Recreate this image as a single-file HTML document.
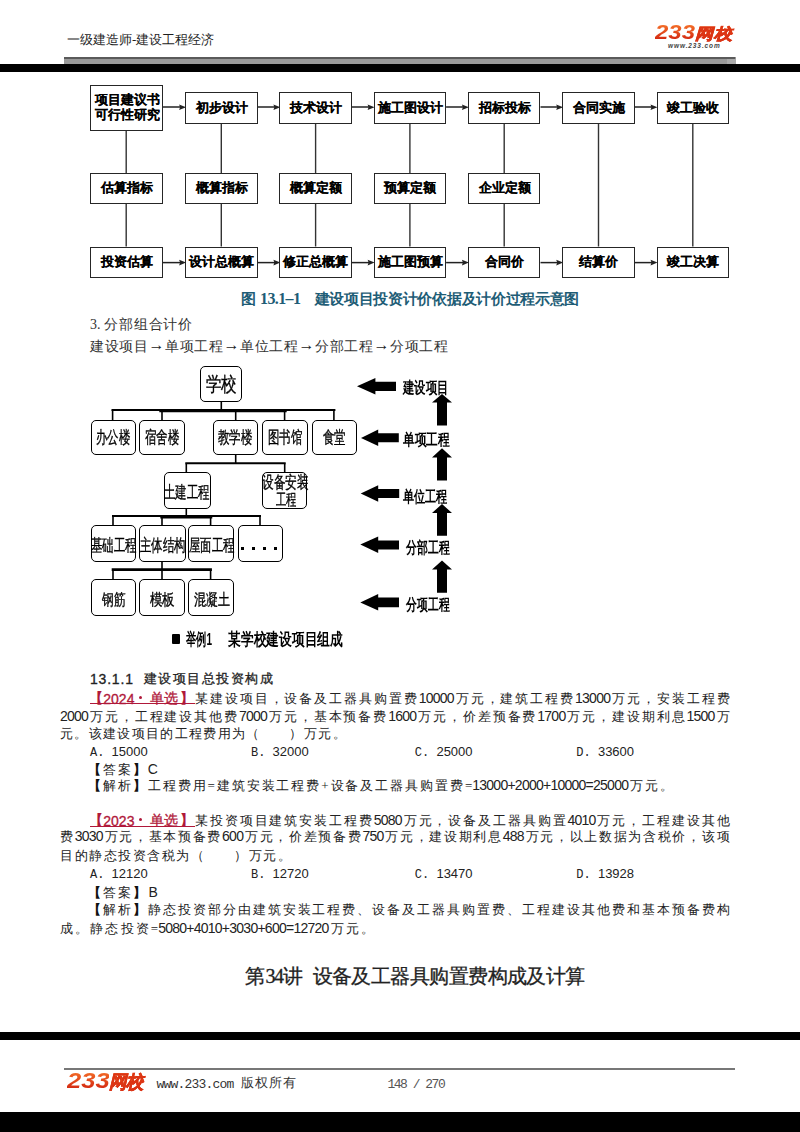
<!DOCTYPE html>
<html><head><meta charset="utf-8">
<style>
*{margin:0;padding:0;box-sizing:border-box}
html,body{width:800px;height:1132px;background:#fff;overflow:hidden;position:relative;font-family:"Liberation Serif",serif;color:#333}
.a{position:absolute}
.l{position:absolute;white-space:nowrap;text-align:justify;text-align-last:justify}
.n{position:absolute;white-space:nowrap}
.fb{position:absolute;border:1.8px solid #262626;background:#fff}
.tb{position:absolute;border:1.9px solid #000;border-radius:5px;background:#fff}
.dg{font-family:'Liberation Sans',sans-serif;font-size:14px;letter-spacing:-0.75px}
.bk{font-weight:bold;color:#111}
.ar{font-family:'Liberation Sans',sans-serif;font-weight:bold;font-size:16px;position:relative;top:-1.5px;color:#222}
.ct{position:absolute;white-space:nowrap;font-family:'Liberation Sans',sans-serif;transform-origin:0 0;-webkit-text-stroke:0.35px #000}
.ft{position:absolute;white-space:nowrap;text-align:justify;text-align-last:justify;font-family:"Liberation Sans",sans-serif;font-weight:bold;color:#000;-webkit-text-stroke:0.1px #000}
</style></head><body>

<div class="l" style="left:67px;top:31px;width:147px;font-size:13px;line-height:18px;color:#1e1e1e;">一级建造师-建设工程经济</div>
<div class="n" style="left:655px;top:22.6px;font-family:'Liberation Sans',sans-serif;font-weight:bold;font-style:italic;font-size:19.55px;line-height:19.55px;color:#e23c18;background:linear-gradient(#f26a26 15%,#d42a12 85%);-webkit-background-clip:text;background-clip:text;-webkit-text-fill-color:transparent;transform-origin:0 0;transform:scaleX(1.226)">233</div>
<div class="n" style="left:695.0px;top:26.2px;font-family:'Liberation Sans',sans-serif;font-weight:bold;font-style:italic;font-size:15.56px;line-height:15.56px;color:#e23c18;-webkit-text-stroke:0.5px #dc3414;background:linear-gradient(#f26a26 15%,#d42a12 85%);-webkit-background-clip:text;background-clip:text;-webkit-text-fill-color:transparent;transform-origin:0 0;transform:scaleX(1.160)">网校</div>
<div class="n" style="left:668px;top:42px;font-family:'Liberation Sans',sans-serif;font-weight:bold;font-style:italic;font-size:6.5px;line-height:7px;color:#444;letter-spacing:0.9px">www.233.com</div>
<div class="a" style="left:64px;top:57px;width:672px;height:7px;background:#999"></div>
<div class="a" style="left:64px;top:57px;width:671px;height:2px;background:#5a5a5a"></div>
<div class="a" style="left:727px;top:59px;width:9px;height:5px;background:#aaa"></div>
<div class="a" style="left:0;top:64px;width:800px;height:8px;background:#000"></div>
<svg class="a" style="left:0;top:0" width="800" height="320" viewBox="0 0 800 320">
<line x1="126.2" y1="130.5" x2="126.2" y2="246.5" stroke="#333" stroke-width="1.4"/>
<line x1="221.3" y1="123.5" x2="221.3" y2="246.5" stroke="#333" stroke-width="1.4"/>
<line x1="315.6" y1="123.5" x2="315.6" y2="246.5" stroke="#333" stroke-width="1.4"/>
<line x1="409.9" y1="123.5" x2="409.9" y2="246.5" stroke="#333" stroke-width="1.4"/>
<line x1="504.2" y1="123.5" x2="504.2" y2="246.5" stroke="#333" stroke-width="1.4"/>
<line x1="598.5" y1="123.5" x2="598.5" y2="246.5" stroke="#333" stroke-width="1.4"/>
<line x1="692.8" y1="123.5" x2="692.8" y2="246.5" stroke="#333" stroke-width="1.4"/>
<line x1="162.5" y1="107" x2="181.1" y2="107" stroke="#222" stroke-width="1.5"/><path d="M186.1,107.2 L179.1,104.4 L180.1,107.2 L179.1,110.0 Z" fill="#222"/>
<line x1="162.5" y1="262.6" x2="181.1" y2="262.6" stroke="#222" stroke-width="1.5"/><path d="M186.1,262.6 L179.1,259.8 L180.1,262.6 L179.1,265.40000000000003 Z" fill="#222"/>
<line x1="257.6" y1="107" x2="275.4" y2="107" stroke="#222" stroke-width="1.5"/><path d="M280.4,107.2 L273.4,104.4 L274.4,107.2 L273.4,110.0 Z" fill="#222"/>
<line x1="257.6" y1="262.6" x2="275.4" y2="262.6" stroke="#222" stroke-width="1.5"/><path d="M280.4,262.6 L273.4,259.8 L274.4,262.6 L273.4,265.40000000000003 Z" fill="#222"/>
<line x1="351.9" y1="107" x2="369.6" y2="107" stroke="#222" stroke-width="1.5"/><path d="M374.6,107.2 L367.6,104.4 L368.6,107.2 L367.6,110.0 Z" fill="#222"/>
<line x1="351.9" y1="262.6" x2="369.6" y2="262.6" stroke="#222" stroke-width="1.5"/><path d="M374.6,262.6 L367.6,259.8 L368.6,262.6 L367.6,265.40000000000003 Z" fill="#222"/>
<line x1="446.1" y1="107" x2="463.9" y2="107" stroke="#222" stroke-width="1.5"/><path d="M468.9,107.2 L461.9,104.4 L462.9,107.2 L461.9,110.0 Z" fill="#222"/>
<line x1="446.1" y1="262.6" x2="463.9" y2="262.6" stroke="#222" stroke-width="1.5"/><path d="M468.9,262.6 L461.9,259.8 L462.9,262.6 L461.9,265.40000000000003 Z" fill="#222"/>
<line x1="540.5" y1="107" x2="558.2" y2="107" stroke="#222" stroke-width="1.5"/><path d="M563.2,107.2 L556.2,104.4 L557.2,107.2 L556.2,110.0 Z" fill="#222"/>
<line x1="540.5" y1="262.6" x2="558.2" y2="262.6" stroke="#222" stroke-width="1.5"/><path d="M563.2,262.6 L556.2,259.8 L557.2,262.6 L556.2,265.40000000000003 Z" fill="#222"/>
<line x1="634.8" y1="107" x2="652.5" y2="107" stroke="#222" stroke-width="1.5"/><path d="M657.5,107.2 L650.5,104.4 L651.5,107.2 L650.5,110.0 Z" fill="#222"/>
<line x1="634.8" y1="262.6" x2="652.5" y2="262.6" stroke="#222" stroke-width="1.5"/><path d="M657.5,262.6 L650.5,259.8 L651.5,262.6 L650.5,265.40000000000003 Z" fill="#222"/>
</svg>
<div class="fb" style="left:90.0px;top:84.5px;width:72.5px;height:46.0px"></div>
<div class="ft" style="left:94.6px;top:91.0px;width:63.4px;font-size:12.8px;line-height:18px">项目建议书</div>
<div class="ft" style="left:94.6px;top:106.0px;width:63.4px;font-size:12.8px;line-height:18px">可行性研究</div>
<div class="fb" style="left:90.0px;top:172.5px;width:72.5px;height:31.5px"></div>
<div class="ft" style="left:100.5px;top:179.2px;width:51.5px;font-size:13px;line-height:18px">估算指标</div>
<div class="fb" style="left:90.0px;top:246.5px;width:72.5px;height:31.5px"></div>
<div class="ft" style="left:100.5px;top:253.2px;width:51.5px;font-size:13px;line-height:18px">投资估算</div>
<div class="fb" style="left:185.1px;top:91.5px;width:72.5px;height:32.0px"></div>
<div class="ft" style="left:195.6px;top:98.5px;width:51.5px;font-size:13px;line-height:18px">初步设计</div>
<div class="fb" style="left:185.1px;top:172.5px;width:72.5px;height:31.5px"></div>
<div class="ft" style="left:195.6px;top:179.2px;width:51.5px;font-size:13px;line-height:18px">概算指标</div>
<div class="fb" style="left:185.1px;top:246.5px;width:72.5px;height:31.5px"></div>
<div class="ft" style="left:189.1px;top:253.2px;width:64.3px;font-size:13px;line-height:18px">设计总概算</div>
<div class="fb" style="left:279.4px;top:91.5px;width:72.5px;height:32.0px"></div>
<div class="ft" style="left:289.9px;top:98.5px;width:51.5px;font-size:13px;line-height:18px">技术设计</div>
<div class="fb" style="left:279.4px;top:172.5px;width:72.5px;height:31.5px"></div>
<div class="ft" style="left:289.9px;top:179.2px;width:51.5px;font-size:13px;line-height:18px">概算定额</div>
<div class="fb" style="left:279.4px;top:246.5px;width:72.5px;height:31.5px"></div>
<div class="ft" style="left:283.4px;top:253.2px;width:64.3px;font-size:13px;line-height:18px">修正总概算</div>
<div class="fb" style="left:373.6px;top:91.5px;width:72.5px;height:32.0px"></div>
<div class="ft" style="left:377.7px;top:98.5px;width:64.3px;font-size:13px;line-height:18px">施工图设计</div>
<div class="fb" style="left:373.6px;top:172.5px;width:72.5px;height:31.5px"></div>
<div class="ft" style="left:384.2px;top:179.2px;width:51.5px;font-size:13px;line-height:18px">预算定额</div>
<div class="fb" style="left:373.6px;top:246.5px;width:72.5px;height:31.5px"></div>
<div class="ft" style="left:377.7px;top:253.2px;width:64.3px;font-size:13px;line-height:18px">施工图预算</div>
<div class="fb" style="left:467.9px;top:91.5px;width:72.5px;height:32.0px"></div>
<div class="ft" style="left:478.5px;top:98.5px;width:51.5px;font-size:13px;line-height:18px">招标投标</div>
<div class="fb" style="left:467.9px;top:172.5px;width:72.5px;height:31.5px"></div>
<div class="ft" style="left:478.5px;top:179.2px;width:51.5px;font-size:13px;line-height:18px">企业定额</div>
<div class="fb" style="left:467.9px;top:246.5px;width:72.5px;height:31.5px"></div>
<div class="ft" style="left:484.9px;top:253.2px;width:38.6px;font-size:13px;line-height:18px">合同价</div>
<div class="fb" style="left:562.2px;top:91.5px;width:72.5px;height:32.0px"></div>
<div class="ft" style="left:572.8px;top:98.5px;width:51.5px;font-size:13px;line-height:18px">合同实施</div>
<div class="fb" style="left:562.2px;top:246.5px;width:72.5px;height:31.5px"></div>
<div class="ft" style="left:579.2px;top:253.2px;width:38.6px;font-size:13px;line-height:18px">结算价</div>
<div class="fb" style="left:656.5px;top:91.5px;width:72.5px;height:32.0px"></div>
<div class="ft" style="left:667.1px;top:98.5px;width:51.5px;font-size:13px;line-height:18px">竣工验收</div>
<div class="fb" style="left:656.5px;top:246.5px;width:72.5px;height:31.5px"></div>
<div class="ft" style="left:667.1px;top:253.2px;width:51.5px;font-size:13px;line-height:18px">竣工决算</div>
<div class="n" style="left:241px;top:290px;font-family:'Liberation Sans',sans-serif;font-weight:bold;font-size:15px;line-height:18px;color:#1e5d76">图</div>
<div class="n" style="left:260px;top:289.5px;font-family:'Liberation Serif',serif;font-weight:bold;font-size:16px;line-height:18px;letter-spacing:-0.6px;color:#1e5d76">13.1–1</div>
<div class="n" style="left:314.5px;top:290px;font-family:'Liberation Sans',sans-serif;font-weight:bold;font-size:15px;line-height:18px;letter-spacing:-0.3px;color:#1e5d76">建设项目投资计价依据及计价过程示意图</div>
<div class="l" style="left:90px;top:316px;width:102px;font-size:14px;line-height:18px;color:#333;"><span style="margin-right:3px">3.</span>分部组合计价</div>
<div class="l" style="left:90px;top:337.3px;width:358px;font-size:14px;line-height:18px;color:#333;">建设项目<span class="ar">→</span>单项工程<span class="ar">→</span>单位工程<span class="ar">→</span>分部工程<span class="ar">→</span>分项工程</div>
<svg class="a" style="left:0;top:350px" width="800" height="300" viewBox="0 350 800 300">
<line x1="112.6" y1="410" x2="334.3" y2="410" stroke="#000" stroke-width="2.2" stroke-linecap="square"/>
<line x1="161" y1="410.6" x2="285" y2="410.6" stroke="#000" stroke-width="3.4" stroke-linecap="square"/>
<line x1="221.3" y1="402" x2="221.3" y2="410" stroke="#000" stroke-width="1.6"/>
<line x1="112.6" y1="410" x2="112.6" y2="421" stroke="#000" stroke-width="1.6"/>
<line x1="162" y1="410" x2="162" y2="421" stroke="#000" stroke-width="1.6"/>
<line x1="235.7" y1="410" x2="235.7" y2="421" stroke="#000" stroke-width="1.6"/>
<line x1="284.6" y1="410" x2="284.6" y2="421" stroke="#000" stroke-width="1.6"/>
<line x1="333.9" y1="410" x2="333.9" y2="421" stroke="#000" stroke-width="1.6"/>
<line x1="235.7" y1="455" x2="235.7" y2="463.5" stroke="#000" stroke-width="1.6"/>
<line x1="186.3" y1="463.2" x2="284.7" y2="463.2" stroke="#000" stroke-width="2.0" stroke-linecap="square"/>
<line x1="186.3" y1="463.5" x2="186.3" y2="472" stroke="#000" stroke-width="1.6"/>
<line x1="284.7" y1="463.5" x2="284.7" y2="472" stroke="#000" stroke-width="1.6"/>
<line x1="186.3" y1="508.7" x2="186.3" y2="516.5" stroke="#000" stroke-width="1.6"/>
<line x1="113" y1="516" x2="260" y2="516" stroke="#000" stroke-width="2.0" stroke-linecap="square"/>
<line x1="162" y1="516.7" x2="210.6" y2="516.7" stroke="#000" stroke-width="3.4" stroke-linecap="square"/>
<line x1="113" y1="516.5" x2="113" y2="526" stroke="#000" stroke-width="1.6"/>
<line x1="162" y1="516.5" x2="162" y2="526" stroke="#000" stroke-width="1.6"/>
<line x1="210.6" y1="516.5" x2="210.6" y2="526" stroke="#000" stroke-width="1.6"/>
<line x1="260" y1="516.5" x2="260" y2="526" stroke="#000" stroke-width="1.6"/>
<line x1="162" y1="562" x2="162" y2="569.6" stroke="#000" stroke-width="1.6"/>
<line x1="113" y1="569.6" x2="210.6" y2="569.6" stroke="#000" stroke-width="2.6" stroke-linecap="square"/>
<line x1="113" y1="569.6" x2="113" y2="579" stroke="#000" stroke-width="1.6"/>
<line x1="162" y1="569.6" x2="162" y2="579" stroke="#000" stroke-width="1.6"/>
<line x1="210.6" y1="569.6" x2="210.6" y2="579" stroke="#000" stroke-width="1.6"/>
<path d="M357,386.3 L375.4,378 L375.4,381.8 L396,381.8 L396,391.1 L375.4,391.1 L375.4,394.6 Z" fill="#000"/>
<path d="M361,437.9 L378.2,429.6 L378.2,433.3 L398.8,433.3 L398.8,442.3 L378.2,442.3 L378.2,446.1 Z" fill="#000"/>
<path d="M360.7,493.5 L378.2,485.2 L378.2,488.9 L399.2,488.9 L399.2,498.1 L378.2,498.1 L378.2,501.7 Z" fill="#000"/>
<path d="M360.3,544.6 L378.2,536.4 L378.2,540.5 L399,540.5 L399,549.4 L378.2,549.4 L378.2,552.9 Z" fill="#000"/>
<path d="M360.3,602.4 L378.2,594.1 L378.2,597.6 L399,597.6 L399,607.2 L378.2,607.2 L378.2,610.6 Z" fill="#000"/>
<path d="M442,393.9 L452,402.4 L447,402.4 L447,425.5 L437,425.5 L437,402.4 L432,402.4 Z" fill="#000"/>
<path d="M442,448.2 L452,457.4 L447,457.4 L447,480.5 L437,480.5 L437,457.4 L432,457.4 Z" fill="#000"/>
<path d="M442,504 L452,513 L447,513 L447,535.7 L437,535.7 L437,513 L432,513 Z" fill="#000"/>
<path d="M442,560.4 L452,569.6 L447,569.6 L447,592.7 L437,592.7 L437,569.6 L432,569.6 Z" fill="#000"/>
</svg>
<div class="tb" style="left:200.4px;top:366.3px;width:42.1px;height:36.0px"></div>
<div class="ct" style="left:206.49px;top:375.39px;font-size:19.77px;line-height:19.77px;font-weight:normal;color:#000;transform:scaleX(0.772)">学校</div>
<div class="tb" style="left:90.8px;top:420.2px;width:45.0px;height:34.8px"></div>
<div class="ct" style="left:95.83px;top:428.82px;font-size:17.27px;line-height:17.27px;font-weight:normal;color:#000;transform:scaleX(0.674)">办公楼</div>
<div class="tb" style="left:139px;top:420.2px;width:46.3px;height:34.8px"></div>
<div class="ct" style="left:144.68px;top:428.82px;font-size:17.27px;line-height:17.27px;font-weight:normal;color:#000;transform:scaleX(0.674)">宿舍楼</div>
<div class="tb" style="left:212.7px;top:420.2px;width:45.7px;height:34.8px"></div>
<div class="ct" style="left:218.08px;top:428.82px;font-size:17.27px;line-height:17.27px;font-weight:normal;color:#000;transform:scaleX(0.674)">教学楼</div>
<div class="tb" style="left:262px;top:420.2px;width:46.4px;height:34.8px"></div>
<div class="ct" style="left:267.73px;top:428.82px;font-size:17.27px;line-height:17.27px;font-weight:normal;color:#000;transform:scaleX(0.674)">图书馆</div>
<div class="tb" style="left:311.6px;top:420.2px;width:45.6px;height:34.8px"></div>
<div class="ct" style="left:322.79px;top:428.82px;font-size:17.27px;line-height:17.27px;font-weight:normal;color:#000;transform:scaleX(0.672)">食堂</div>
<div class="tb" style="left:163.8px;top:471.5px;width:47.1px;height:37.4px"></div>
<div class="ct" style="left:164.14px;top:484.71px;font-size:16.93px;line-height:16.93px;font-weight:normal;color:#000;transform:scaleX(0.673)">土建工程</div>
<div class="tb" style="left:262.2px;top:471.5px;width:45.3px;height:37.4px"></div>
<div class="ct" style="left:262.34px;top:474.90px;font-size:16.59px;line-height:16.59px;font-weight:normal;color:#000;transform:scaleX(0.687)">设备安装</div>
<div class="ct" style="left:275.59px;top:492.48px;font-size:15.91px;line-height:15.91px;font-weight:normal;color:#000;transform:scaleX(0.642)">工程</div>
<div class="tb" style="left:90.7px;top:525.1px;width:45.5px;height:37.4px"></div>
<div class="ct" style="left:91.00px;top:537.80px;font-size:16.70px;line-height:16.70px;font-weight:normal;color:#000;transform:scaleX(0.672)">基础工程</div>
<div class="tb" style="left:139px;top:525.1px;width:46.9px;height:37.4px"></div>
<div class="ct" style="left:140.00px;top:537.80px;font-size:16.70px;line-height:16.70px;font-weight:normal;color:#000;transform:scaleX(0.672)">主体结构</div>
<div class="tb" style="left:188px;top:525.1px;width:46.0px;height:37.4px"></div>
<div class="ct" style="left:188.55px;top:537.80px;font-size:16.70px;line-height:16.70px;font-weight:normal;color:#000;transform:scaleX(0.672)">屋面工程</div>
<div class="tb" style="left:237.6px;top:525.1px;width:45.9px;height:37.4px"></div>
<div class="a" style="left:241.0px;top:547px;width:3px;height:3.4px;background:#000"></div>
<div class="a" style="left:251.9px;top:547px;width:3px;height:3.4px;background:#000"></div>
<div class="a" style="left:262.8px;top:547px;width:3px;height:3.4px;background:#000"></div>
<div class="a" style="left:273.7px;top:547px;width:3px;height:3.4px;background:#000"></div>
<div class="tb" style="left:91px;top:579px;width:45.4px;height:37.4px"></div>
<div class="ct" style="left:101.54px;top:592.07px;font-size:15.68px;line-height:15.68px;font-weight:normal;color:#000;transform:scaleX(0.731)">钢筋</div>
<div class="tb" style="left:139px;top:579px;width:46.3px;height:37.4px"></div>
<div class="ct" style="left:149.51px;top:592.07px;font-size:15.68px;line-height:15.68px;font-weight:normal;color:#000;transform:scaleX(0.780)">模板</div>
<div class="tb" style="left:188px;top:579px;width:46.0px;height:37.4px"></div>
<div class="ct" style="left:193.53px;top:592.07px;font-size:15.68px;line-height:15.68px;font-weight:normal;color:#000;transform:scaleX(0.753)">混凝土</div>
<div class="ct" style="left:403.15px;top:380.47px;font-size:15.80px;line-height:15.80px;font-weight:bold;color:#000;-webkit-text-stroke:0;transform:scaleX(0.711)">建设项目</div>
<div class="ct" style="left:403.14px;top:432.17px;font-size:15.57px;line-height:15.57px;font-weight:bold;color:#000;-webkit-text-stroke:0;transform:scaleX(0.732)">单项工程</div>
<div class="ct" style="left:403.14px;top:488.09px;font-size:16.36px;line-height:16.36px;font-weight:bold;color:#000;-webkit-text-stroke:0;transform:scaleX(0.697)">单位工程</div>
<div class="ct" style="left:405.95px;top:538.89px;font-size:16.48px;line-height:16.48px;font-weight:bold;color:#000;-webkit-text-stroke:0;transform:scaleX(0.681)">分部工程</div>
<div class="ct" style="left:405.95px;top:595.99px;font-size:16.48px;line-height:16.48px;font-weight:bold;color:#000;-webkit-text-stroke:0;transform:scaleX(0.681)">分项工程</div>
<div class="a" style="left:171.75px;top:634px;width:7.8px;height:10px;background:#000;border-radius:1px"></div>
<div class="ct" style="left:186.00px;top:632.25px;font-size:16.65px;line-height:16.65px;font-weight:bold;color:#000;-webkit-text-stroke:0;transform:scaleX(0.601)">举例<span style="font-family:'Liberation Sans',sans-serif">1</span></div>
<div class="ct" style="left:227.50px;top:632.25px;font-size:16.65px;line-height:16.65px;font-weight:bold;color:#000;-webkit-text-stroke:0;transform:scaleX(0.750)">某学校建设项目组成</div>
<div class="n" style="left:90px;top:670.5px;font-family:'Liberation Sans',sans-serif;font-size:14px;line-height:16px;color:#222;letter-spacing:0.8px;-webkit-text-stroke:0.3px #222">13.1.1</div>
<div class="l" style="left:143.5px;top:671px;width:129px;font-size:13px;line-height:16px;color:#222;-webkit-text-stroke:0.3px #222;">建设项目总投资构成</div>
<div class="n" style="left:88.7px;top:689.5px;font-size:14px;line-height:18px;font-weight:bold;color:#b0183a">【</div>
<div class="n" style="left:103.3px;top:689.5px;font-family:'Liberation Sans',sans-serif;font-size:14px;line-height:18px;color:#b0183a;-webkit-text-stroke:0.3px #b0183a">2024</div>
<div class="a" style="left:139.3px;top:696.3px;width:3.2px;height:3.2px;border-radius:50%;background:#b0183a"></div>
<div class="n" style="left:150px;top:689.5px;font-size:14px;line-height:18px;letter-spacing:0.2px;color:#b0183a;-webkit-text-stroke:0.3px #b0183a">单选</div>
<div class="n" style="left:180px;top:689.5px;font-size:14px;line-height:18px;font-weight:bold;color:#b0183a">】</div>
<div class="a" style="left:89.5px;top:703px;width:105px;height:1.3px;background:#b0183a"></div>
<div class="l" style="left:195px;top:690px;width:534.5px;font-size:13px;line-height:16px;color:#222;">某建设项目，设备及工器具购置费<span class="dg">10000</span>万元，建筑工程费<span class="dg">13000</span>万元，安装工程费</div>
<div class="l" style="left:60px;top:708px;width:669.5px;font-size:13px;line-height:16px;color:#222;"><span class="dg">2000</span>万元，工程建设其他费<span class="dg">7000</span>万元，基本预备费<span class="dg">1600</span>万元，价差预备费<span class="dg">1700</span>万元，建设期利息<span class="dg">1500</span>万</div>
<div class="l" style="left:60px;top:726px;width:285.5px;font-size:13px;line-height:16px;color:#222;">元。该建设项目的工程费用为（　　）万元。</div>
<div class="n" style="left:90px;top:743.5px;font-size:13px;line-height:16px;color:#222"><span style="font-family:'Liberation Mono',monospace;font-size:12px">A.&nbsp;</span><span style="font-family:'Liberation Sans',sans-serif;font-size:13px">15000</span></div>
<div class="n" style="left:251px;top:743.5px;font-size:13px;line-height:16px;color:#222"><span style="font-family:'Liberation Mono',monospace;font-size:12px">B.&nbsp;</span><span style="font-family:'Liberation Sans',sans-serif;font-size:13px">32000</span></div>
<div class="n" style="left:414.8px;top:743.5px;font-size:13px;line-height:16px;color:#222"><span style="font-family:'Liberation Mono',monospace;font-size:12px">C.&nbsp;</span><span style="font-family:'Liberation Sans',sans-serif;font-size:13px">25000</span></div>
<div class="n" style="left:576.3px;top:743.5px;font-size:13px;line-height:16px;color:#222"><span style="font-family:'Liberation Mono',monospace;font-size:12px">D.&nbsp;</span><span style="font-family:'Liberation Sans',sans-serif;font-size:13px">33600</span></div>
<div class="l" style="left:88px;top:761px;width:69px;font-size:13px;line-height:16px;color:#222;"><b class="bk">【</b>答案<b class="bk">】</b><span class="dg">C</span></div>
<div class="l" style="left:88px;top:777px;width:585px;font-size:13px;line-height:16px;color:#222;"><b class="bk">【</b>解析<b class="bk">】</b>工程费用=建筑安装工程费+设备及工器具购置费=<span class="dg">13000+2000+10000=25000</span>万元。</div>
<div class="n" style="left:88.7px;top:811.5px;font-size:14px;line-height:18px;font-weight:bold;color:#b0183a">【</div>
<div class="n" style="left:103.3px;top:811.5px;font-family:'Liberation Sans',sans-serif;font-size:14px;line-height:18px;color:#b0183a;-webkit-text-stroke:0.3px #b0183a">2023</div>
<div class="a" style="left:139.3px;top:818.3px;width:3.2px;height:3.2px;border-radius:50%;background:#b0183a"></div>
<div class="n" style="left:150px;top:811.5px;font-size:14px;line-height:18px;letter-spacing:0.2px;color:#b0183a;-webkit-text-stroke:0.3px #b0183a">单选</div>
<div class="n" style="left:180px;top:811.5px;font-size:14px;line-height:18px;font-weight:bold;color:#b0183a">】</div>
<div class="a" style="left:89.5px;top:826px;width:105px;height:1.3px;background:#b0183a"></div>
<div class="l" style="left:195px;top:812px;width:534.5px;font-size:13px;line-height:16px;color:#222;">某投资项目建筑安装工程费<span class="dg">5080</span>万元，设备及工器具购置<span class="dg">4010</span>万元，工程建设其他</div>
<div class="l" style="left:60px;top:827.5px;width:669.5px;font-size:13px;line-height:16px;color:#222;">费<span class="dg">3030</span>万元，基本预备费<span class="dg">600</span>万元，价差预备费<span class="dg">750</span>万元，建设期利息<span class="dg">488</span>万元，以上数据为含税价，该项</div>
<div class="l" style="left:60px;top:847.5px;width:231px;font-size:13px;line-height:16px;color:#222;">目的静态投资含税为（　　）万元。</div>
<div class="n" style="left:90px;top:865.5px;font-size:13px;line-height:16px;color:#222"><span style="font-family:'Liberation Mono',monospace;font-size:12px">A.&nbsp;</span><span style="font-family:'Liberation Sans',sans-serif;font-size:13px">12120</span></div>
<div class="n" style="left:251px;top:865.5px;font-size:13px;line-height:16px;color:#222"><span style="font-family:'Liberation Mono',monospace;font-size:12px">B.&nbsp;</span><span style="font-family:'Liberation Sans',sans-serif;font-size:13px">12720</span></div>
<div class="n" style="left:414.8px;top:865.5px;font-size:13px;line-height:16px;color:#222"><span style="font-family:'Liberation Mono',monospace;font-size:12px">C.&nbsp;</span><span style="font-family:'Liberation Sans',sans-serif;font-size:13px">13470</span></div>
<div class="n" style="left:576.3px;top:865.5px;font-size:13px;line-height:16px;color:#222"><span style="font-family:'Liberation Mono',monospace;font-size:12px">D.&nbsp;</span><span style="font-family:'Liberation Sans',sans-serif;font-size:13px">13928</span></div>
<div class="l" style="left:88px;top:883.5px;width:69px;font-size:13px;line-height:16px;color:#222;"><b class="bk">【</b>答案<b class="bk">】</b><span class="dg">B</span></div>
<div class="l" style="left:88px;top:902px;width:641.5px;font-size:13px;line-height:16px;color:#222;"><b class="bk">【</b>解析<b class="bk">】</b>静态投资部分由建筑安装工程费、设备及工器具购置费、工程建设其他费和基本预备费构</div>
<div class="l" style="left:60px;top:920px;width:314px;font-size:13px;line-height:16px;color:#222;">成。静态投资=<span class="dg">5080+4010+3030+600=12720</span>万元。</div>
<div class="n" style="left:245px;top:964px;font-size:20px;line-height:24px;color:#222;-webkit-text-stroke:0.3px #222">第<span style="letter-spacing:-1.6px;margin-left:0.5px">34</span><span style="margin-left:1px">讲</span></div>
<div class="n" style="left:312.5px;top:964px;font-size:20px;line-height:24px;letter-spacing:-0.55px;color:#222;-webkit-text-stroke:0.3px #222">设备及工器具购置费构成及计算</div>
<div class="a" style="left:0;top:1032px;width:800px;height:8px;background:#000"></div>
<div class="a" style="left:64px;top:1068px;width:671px;height:1.5px;background:#777"></div>
<div class="n" style="left:66.5px;top:1068.9px;font-family:'Liberation Sans',sans-serif;font-weight:bold;font-style:italic;font-size:22.91px;line-height:22.91px;color:#e23c18;background:linear-gradient(#f26a26 15%,#d42a12 85%);-webkit-background-clip:text;background-clip:text;-webkit-text-fill-color:transparent;transform-origin:0 0;transform:scaleX(1.118)">233</div>
<div class="n" style="left:109.2px;top:1073.1px;font-family:'Liberation Sans',sans-serif;font-weight:bold;font-style:italic;font-size:18.22px;line-height:18.22px;color:#e23c18;-webkit-text-stroke:0.5px #dc3414;background:linear-gradient(#f26a26 15%,#d42a12 85%);-webkit-background-clip:text;background-clip:text;-webkit-text-fill-color:transparent;transform-origin:0 0;transform:scaleX(0.962)">网校</div>
<div class="n" style="left:156.5px;top:1076.5px;font-family:'Liberation Mono',monospace;font-size:13px;line-height:16px;letter-spacing:-0.8px;color:#333">www.233.com</div>
<div class="l" style="left:241px;top:1075px;width:55px;font-size:13px;line-height:16px;color:#333;">版权所有</div>
<div class="n" style="left:387.5px;top:1077px;font-family:'Liberation Mono',monospace;font-size:13px;line-height:16px;letter-spacing:-1.5px;color:#555">148 / 270</div>
<div class="a" style="left:0;top:1112px;width:800px;height:20px;background:#000"></div>
</body></html>
